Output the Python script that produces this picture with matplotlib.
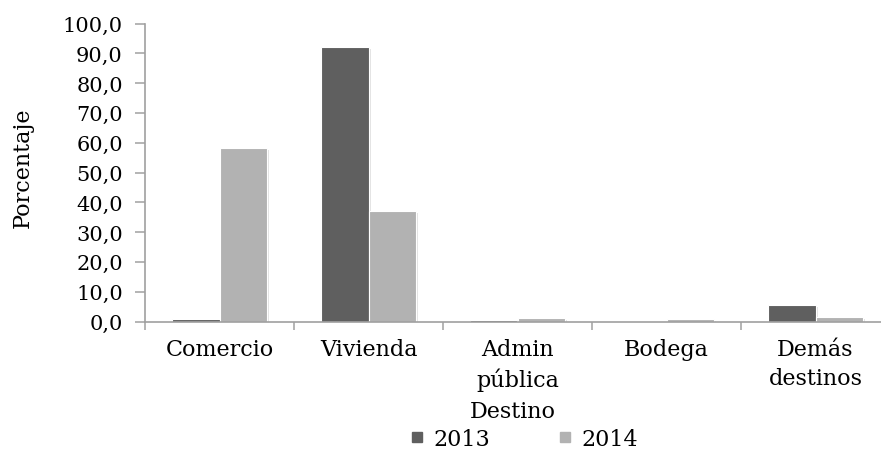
import matplotlib.pyplot as plt
import matplotlib.patheffects as pe
import numpy as np
from matplotlib.lines import Line2D

# Data
categorias = ["Comercio", "Vivienda", "Admin\npública", "Bodega", "Demás\ndestinos"]
anios = ["2013", "2014"]
valores_2013 = [0.8, 92.0, 0.6, 0.0, 5.5]
valores_2014 = [58.3, 37.2, 1.2, 1.0, 1.5]
colores = ["#5f5f5f", "#b2b2b2"]

plt.rcParams['font.family'] = ['DejaVu Serif']
plt.rcParams['font.size'] = 15

fig = plt.figure(figsize=(8.81, 4.52), dpi=100)
# axes runs a little past the right edge, as in the original
ax = fig.add_axes([145 / 881, 1 - 322.5 / 452, 745 / 881, 298 / 452])

x = np.arange(len(categorias))
w = 0.317
sombra = [pe.SimplePatchShadow(offset=(1.5, -1.5), shadow_rgbFace="#bbbbbb", alpha=0.4),
          pe.Normal()]
for i, (vals, col) in enumerate(zip([valores_2013, valores_2014], colores)):
    ax.bar(x + (i - 0.5) * w, vals, width=w, color=col, edgecolor="white",
           linewidth=0.8, label=anios[i], zorder=2, path_effects=sombra)

ax.set_xlim(-0.5, len(categorias) - 0.5)
ax.set_ylim(0, 100)
ax.set_yticks(np.arange(0, 101, 10))
ax.set_yticklabels([f"{v:.1f}".replace(".", ",") for v in np.arange(0, 101, 10)])

# ticks sit on the category boundaries
ax.set_xticks(np.arange(-0.5, len(categorias), 1.0))
ax.set_xticklabels([])
ax.set_xticks(x, minor=True)
ax.set_xticklabels(categorias, minor=True, linespacing=1.4, fontsize=16)
ax.tick_params(axis="x", which="minor", length=0, pad=12)
ax.tick_params(axis="x", which="major", length=6, width=1.1, color="#a0a0a0")
ax.tick_params(axis="y", length=7, width=1.1, color="#a0a0a0", pad=9)

for s in ["top", "right"]:
    ax.spines[s].set_visible(False)
for s in ["left", "bottom"]:
    ax.spines[s].set_color("#a0a0a0")
    ax.spines[s].set_linewidth(1.2)

ax.set_ylabel("Porcentaje", fontsize=16)
ax.yaxis.set_label_coords((34 - 145) / 745, (322.5 - 168) / 298)
fig.text(513 / 881, 1 - 418 / 452, "Destino", ha="center", va="baseline", fontsize=16)

handles = [Line2D([], [], marker="s", linestyle="none", markersize=7,
                  color=c) for c in colores]
fig.legend(handles, anios, loc="center", bbox_to_anchor=(524 / 881, 1 - 440 / 452),
           ncol=2, frameon=False, handletextpad=0.45, columnspacing=3.05,
           handlelength=0.6, borderaxespad=0, fontsize=16)

plt.savefig("out.png", dpi=100)
plt.close()
